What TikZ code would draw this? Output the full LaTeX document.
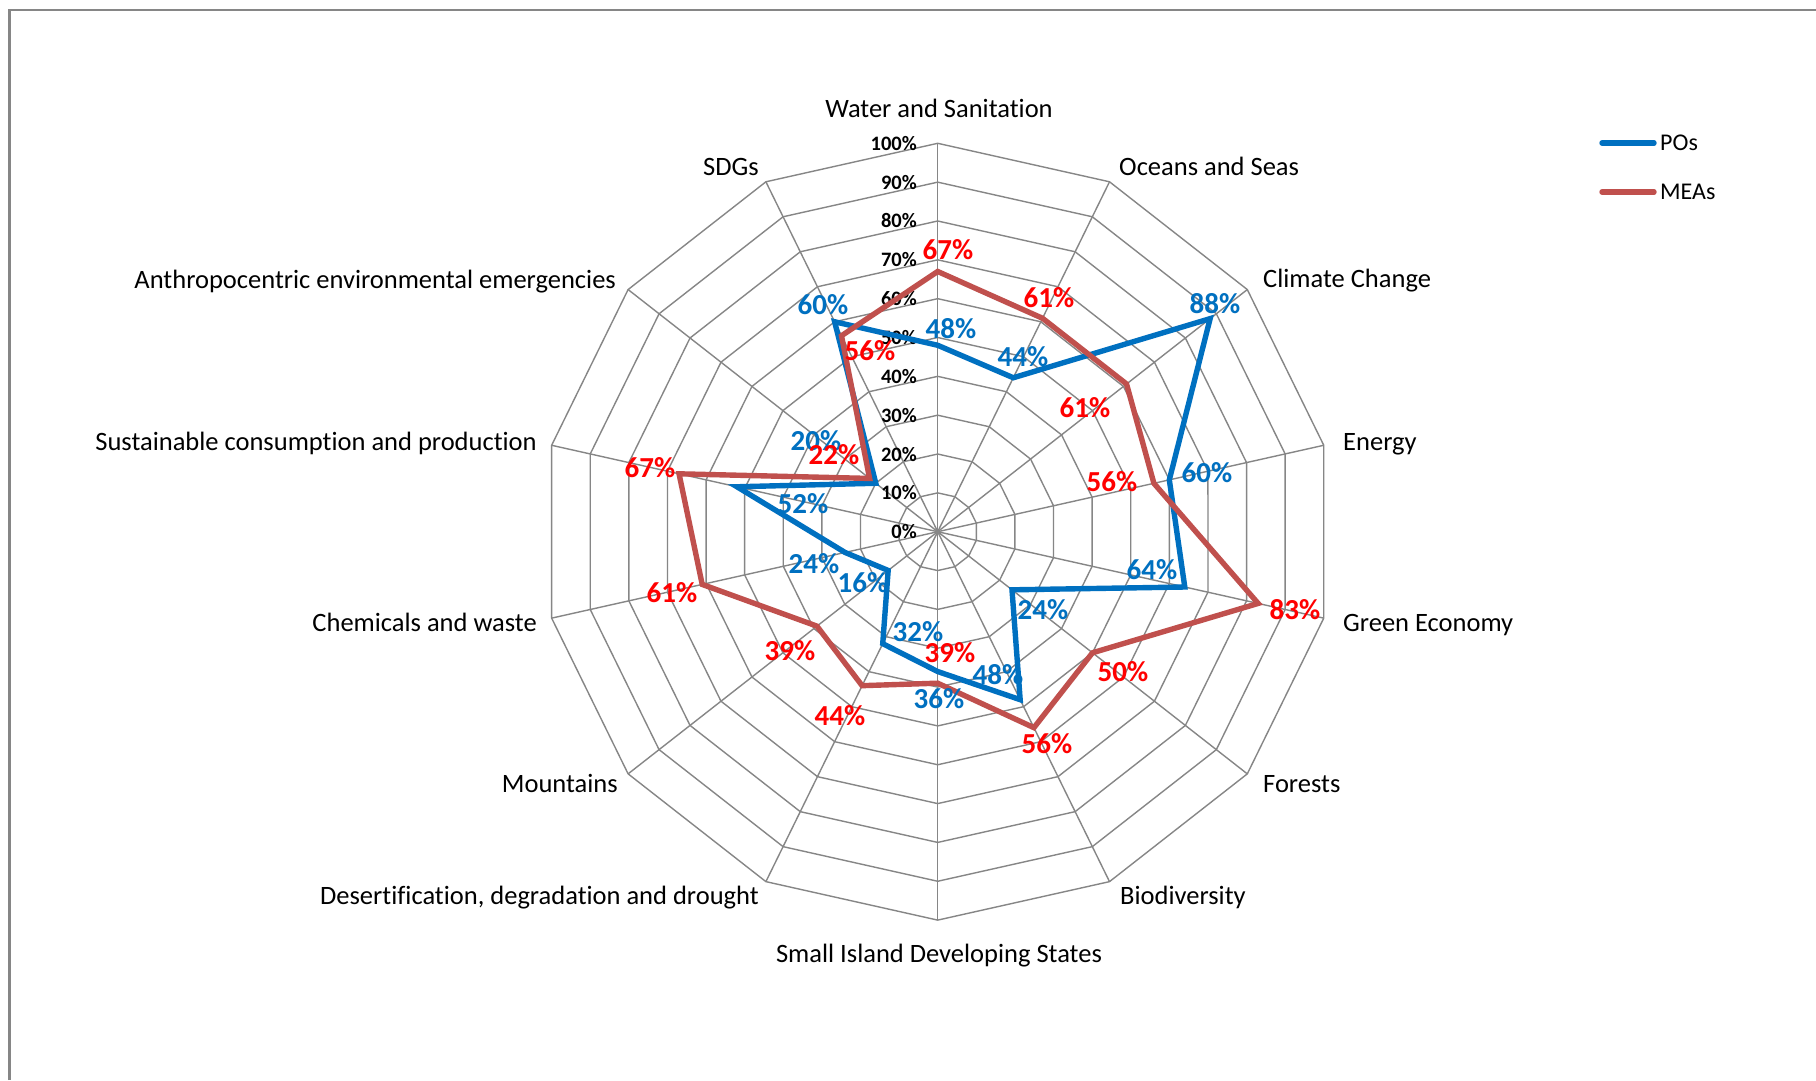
\documentclass[tikz,border=0pt]{standalone}
\usepackage{fontspec}
\setmainfont{Carlito}[Ligatures=NoCommon]
\definecolor{poblue}{HTML}{0070C0}
\definecolor{meared}{HTML}{C0504D}
\definecolor{lblred}{HTML}{FF0000}
\definecolor{gridgray}{HTML}{868686}
\begin{document}
\begin{tikzpicture}[x=1pt,y=-1pt,
  gridline/.style={draw=gridgray, line width=1.4pt},
  poline/.style={draw=poblue, line width=5.4pt},
  mealine/.style={draw=meared, line width=5.4pt},
  cat/.style={font=\fontsize{26.5}{30}\selectfont, inner sep=0pt},
  ticklab/.style={font=\bfseries\fontsize{20.5}{24}\selectfont, inner sep=0pt, anchor=east},
  polab/.style={font=\bfseries\fontsize{29}{33}\selectfont, inner sep=0pt, text=poblue},
  mealab/.style={font=\bfseries\fontsize{29}{33}\selectfont, inner sep=0pt, text=lblred},
  leglab/.style={font=\fontsize{24}{28}\selectfont, inner sep=0pt, anchor=west}]
\useasboundingbox (0,0) rectangle (1816,1080);
\fill[white] (0,0) rectangle (1816,1080);
\draw[gridgray, line width=2.2pt] (9.5,1080) -- (9.5,10) -- (1816,10);
\def\cx{937.7}
\def\cy{531.7}
\def\rx{396}
\def\ry{388.4}
% grid polygons
\foreach \l in {1,...,10} {
  \draw[gridline] ({\cx},{\cy-\l/10*\ry})
    \foreach \k in {1,...,13} { -- ({\cx+\l/10*\rx*sin(\k*360/14)},{\cy-\l/10*\ry*cos(\k*360/14)}) } -- cycle;
}
% spokes
\coordinate (c) at (\cx,\cy);
\foreach \k in {0,...,13} {
  \coordinate (o\k) at ({\cx+\rx*sin(\k*360/14)},{\cy-\ry*cos(\k*360/14)});
  \draw[gridline] (c) -- (o\k);
}
% tick labels
\foreach \l in {0,...,10} {
  \pgfmathtruncatemacro{\pc}{\l*10}
  \node[ticklab] (t\l) at (917,{\cy-\l/10*\ry}) {\pc\%};
}
% data points
\foreach \v [count=\k from 0] in {48,44,88,60,64,24,48,36,32,16,24,52,20,60}
  \coordinate (p\k) at ({\cx+\v/100*\rx*sin(\k*360/14)},{\cy-\v/100*\ry*cos(\k*360/14)});
\foreach \v [count=\k from 0] in {67,61,61,56,83,50,56,39,44,39,61,67,22,56}
  \coordinate (m\k) at ({\cx+\v/100*\rx*sin(\k*360/14)},{\cy-\v/100*\ry*cos(\k*360/14)});
\draw[poline] (p0) \foreach \k in {1,...,13} { -- (p\k) } -- cycle;
\draw[mealine] (m0) \foreach \k in {1,...,13} { -- (m\k) } -- cycle;
% category labels
\node[cat, anchor=base] (cw) at (939,117.5) {Water and Sanitation};
\node[cat, anchor=base west] (co) at (1119,175) {Oceans and Seas};
\node[cat, anchor=base west] (cc) at (1263,287.5) {Climate Change};
\node[cat, anchor=base west] (ce) at (1343,450) {Energy};
\node[cat, anchor=base west] (cg) at (1343,631) {Green Economy};
\node[cat, anchor=base west] (cf) at (1263,792.5) {Forests};
\node[cat, anchor=base west] (cb) at (1120,904.5) {Biodiversity};
\node[cat, anchor=base] (cs) at (939,962) {Small Island Developing States};
\node[cat, anchor=base east] (cd) at (759,904.5) {Desertification, degradation and drought};
\node[cat, anchor=base east] (cm) at (618,792.5) {Mountains};
\node[cat, anchor=base east] (ch) at (537,631) {Chemicals and waste};
\node[cat, anchor=base east] (cp) at (537,450) {Sustainable consumption and production};
\node[cat, anchor=base east] (ca) at (616,288.5) {Anthropocentric environmental emergencies};
\node[cat, anchor=base east] (cq) at (759,175) {SDGs};
% PO data labels
\node[polab] (lp0) at (951,329) {48\%};
\node[polab] (lp1) at (1023,357) {44\%};
\node[polab] (lp2) at (1215,304) {88\%};
\node[polab] (lp3) at (1207,473) {60\%};
\node[polab] (lp4) at (1152,570) {64\%};
\node[polab] (lp5) at (1043,610) {24\%};
\node[polab] (lp6) at (998,675) {48\%};
\node[polab] (lp7) at (939,699) {36\%};
\node[polab] (lp8) at (918,632) {32\%};
\node[polab] (lp9) at (863,583) {16\%};
\node[polab] (lp10) at (814,564) {24\%};
\node[polab] (lp11) at (803,504) {52\%};
\node[polab] (lp12) at (816,441) {20\%};
\node[polab] (lp13) at (823,305) {60\%};
% MEA data labels
\node[mealab] (lm0) at (948,250) {67\%};
\node[mealab] (lm1) at (1049,298) {61\%};
\node[mealab] (lm2) at (1085,408) {61\%};
\node[mealab] (lm3) at (1112,482) {56\%};
\node[mealab] (lm4) at (1295,610) {83\%};
\node[mealab] (lm5) at (1123,672) {50\%};
\node[mealab] (lm6) at (1047,744) {56\%};
\node[mealab] (lm7) at (950,653) {39\%};
\node[mealab] (lm8) at (840,716) {44\%};
\node[mealab] (lm9) at (790,651) {39\%};
\node[mealab] (lm10) at (672,593) {61\%};
\node[mealab] (lm11) at (650,468) {67\%};
\node[mealab] (lm12) at (834,455) {22\%};
\node[mealab] (lm13) at (870,351) {56\%};
% legend
\coordinate (lga) at (1602,143);
\coordinate (lgb) at (1654,143);
\coordinate (lgc) at (1602,192);
\coordinate (lgd) at (1654,192);
\draw[poline, line cap=round] (lga) -- (lgb);
\draw[mealine, line cap=round] (lgc) -- (lgd);
\node[leglab] (lgpo) at (1660,143) {POs};
\node[leglab] (lgmea) at (1660,192) {MEAs};
\end{tikzpicture}
\end{document}
